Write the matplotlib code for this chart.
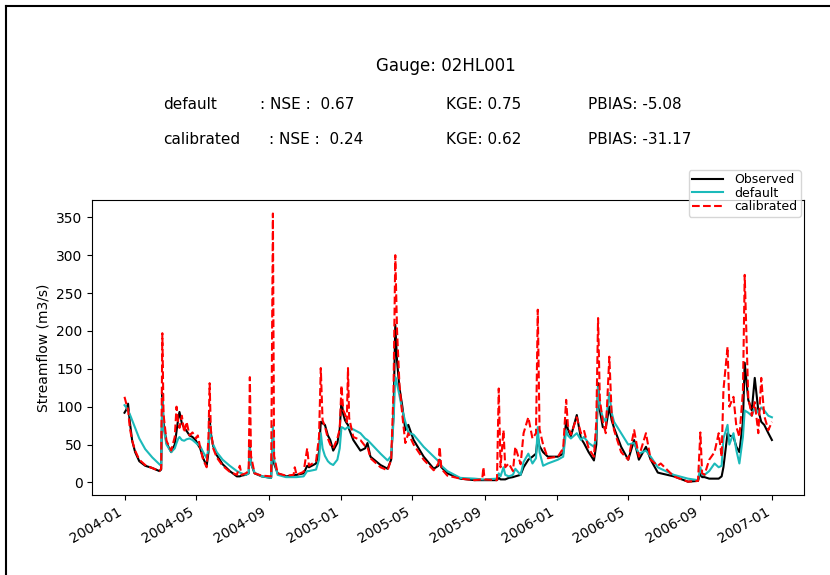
import numpy as np
import pandas as pd
import matplotlib
matplotlib.use("Agg")
import matplotlib.pyplot as plt
import matplotlib.dates as mdates
from matplotlib.lines import Line2D


# valores (m3/s)
fechas = [
    # 2004
    "2004-01-01", "2004-01-04", "2004-01-07", "2004-01-10", "2004-01-14", "2004-01-19",
    "2004-01-26", "2004-02-05", "2004-02-17", "2004-02-29", "2004-03-03", "2004-03-05",
    "2004-03-07", "2004-03-12", "2004-03-20", "2004-03-26", "2004-03-29", "2004-04-01",
    "2004-04-03", "2004-04-07", "2004-04-11", "2004-04-15", "2004-04-20", "2004-04-25",
    "2004-05-01", "2004-05-04", "2004-05-08", "2004-05-13", "2004-05-19", "2004-05-22",
    "2004-05-24", "2004-05-26", "2004-05-30", "2004-06-05", "2004-06-15", "2004-06-27",
    "2004-07-09", "2004-07-14", "2004-07-17", "2004-07-24", "2004-07-29", "2004-07-31",
    "2004-08-02", "2004-08-08", "2004-08-20", "2004-09-05", "2004-09-08", "2004-09-10",
    "2004-09-16", "2004-09-30", "2004-10-13", "2004-10-15", "2004-10-18", "2004-10-30",
    "2004-11-05", "2004-11-08", "2004-11-20", "2004-11-25", "2004-11-28", "2004-12-01",
    "2004-12-05", "2004-12-10", "2004-12-14", "2004-12-19", "2004-12-26", "2004-12-30",
    # 2005
    "2005-01-02", "2005-01-05", "2005-01-08", "2005-01-11", "2005-01-13", "2005-01-15",
    "2005-01-22", "2005-02-03", "2005-02-11", "2005-02-15", "2005-02-20", "2005-03-09",
    "2005-03-21", "2005-03-27", "2005-03-31", "2005-04-03", "2005-04-06", "2005-04-10",
    "2005-04-15", "2005-04-20", "2005-04-25", "2005-05-04", "2005-05-21", "2005-06-07",
    "2005-06-15", "2005-06-17", "2005-06-20", "2005-06-30", "2005-07-22", "2005-08-15",
    "2005-08-28", "2005-08-30", "2005-09-01", "2005-09-22", "2005-09-25", "2005-09-28",
    "2005-10-03", "2005-10-06", "2005-10-12", "2005-10-19", "2005-10-23", "2005-11-01",
    "2005-11-06", "2005-11-14", "2005-11-21", "2005-11-27", "2005-11-30", "2005-12-03",
    "2005-12-09", "2005-12-17",
    # 2006
    "2006-01-03", "2006-01-12", "2006-01-17", "2006-01-20", "2006-01-25", "2006-02-04",
    "2006-02-11", "2006-02-16", "2006-02-24", "2006-03-05", "2006-03-09", "2006-03-12",
    "2006-03-15", "2006-03-20", "2006-03-25", "2006-03-31", "2006-04-04", "2006-04-08",
    "2006-04-20", "2006-05-02", "2006-05-12", "2006-05-20", "2006-06-01", "2006-06-09",
    "2006-06-21", "2006-06-26", "2006-07-18", "2006-08-11", "2006-08-28", "2006-09-01",
    "2006-09-04", "2006-09-08", "2006-09-16", "2006-09-25", "2006-10-02", "2006-10-07",
    "2006-10-10", "2006-10-17", "2006-10-20", "2006-10-27", "2006-11-01", "2006-11-06",
    "2006-11-12", "2006-11-15", "2006-11-21", "2006-11-27", "2006-12-02", "2006-12-08",
    "2006-12-13", "2006-12-18", "2006-12-25", "2006-12-31",
]

observado = [
    92, 96, 104, 80, 55, 40,
    28, 22, 19, 15, 17, 118,
    80, 52, 40, 50, 68, 85,
    93, 78, 72, 68, 62, 60,
    55, 50, 45, 32, 22, 40,
    85, 65, 48, 36, 24, 15,
    8, 8, 9, 10, 12, 48,
    25, 12, 8, 6, 65, 25,
    12, 8, 9, 10, 10, 12,
    22, 20, 25, 40, 80, 78,
    76, 62, 56, 42, 52, 70,
    109, 90, 82, 78, 76, 70,
    56, 42, 45, 52, 34, 23,
    18, 30, 90, 208, 160, 125,
    100, 69, 76, 56, 34, 18,
    22, 30, 20, 12, 5, 3,
    3, 3, 3, 3, 6, 4,
    4, 4, 6, 7, 8, 10,
    20, 30, 34, 38, 60, 48,
    40, 34,
    34, 38, 82, 70, 61, 89,
    58, 52, 40, 29, 50, 131,
    95, 73, 72, 100, 82, 72,
    47, 30, 56, 30, 47, 30,
    13, 12, 8, 1, 2, 12,
    7, 7, 5, 5, 5, 8,
    20, 65, 62, 60, 47, 40,
    80, 158, 109, 95, 138, 95,
    80, 76, 65, 56,
]

por_defecto = [
    102, 99, 95, 90, 82, 72,
    58, 44, 33, 24, 22, 112,
    72, 50, 40, 45, 52, 58,
    60, 56, 55, 57, 58, 56,
    52, 50, 48, 40, 32, 45,
    75, 60, 50, 40, 30, 22,
    15, 13, 12, 10, 12, 45,
    25, 13, 8, 6, 75, 30,
    10, 7, 7, 7, 7, 8,
    15, 15, 17, 30, 65, 45,
    35, 28, 25, 23, 30, 45,
    73, 72, 70, 72, 73, 72,
    70, 65, 58, 56, 52, 38,
    29, 35, 80, 139, 130, 115,
    95, 80, 66, 63, 47, 34,
    28, 25, 22, 15, 6, 5,
    4, 4, 4, 5, 12, 8,
    20, 10, 8, 10, 18, 10,
    27, 38, 25, 32, 73, 40,
    22, 25,
    30, 34, 69, 62, 58, 65,
    56, 60, 52, 47, 60, 126,
    100, 86, 80, 118, 92, 80,
    65, 50, 52, 38, 42, 34,
    20, 18, 10, 5, 3, 20,
    10, 10, 15, 25, 20, 22,
    58, 76, 50, 65, 42, 25,
    60, 95, 92, 88, 99, 92,
    99, 95, 88, 86,
]

calibrado = [
    113, 104, 96, 72, 55, 42,
    30, 23, 19, 15, 18, 197,
    90, 55, 42, 60, 100, 78,
    72, 88, 66, 80, 62, 66,
    58, 62, 46, 30, 20, 60,
    131, 70, 45, 33, 22, 14,
    10, 22, 10, 12, 15, 139,
    35, 12, 9, 8, 355, 35,
    12, 9, 10, 20, 10, 14,
    45, 22, 28, 60, 151, 82,
    74, 58, 50, 45, 58, 70,
    128, 95, 90, 80, 151, 85,
    60, 56, 48, 47, 32, 20,
    16, 30, 120, 300, 200, 130,
    88, 52, 65, 50, 30, 16,
    25, 47, 18, 9, 5, 3,
    4, 20, 4, 3, 124, 20,
    69, 20, 25, 15, 47, 24,
    65, 86, 58, 65, 228, 70,
    50, 32,
    34, 45, 109, 75, 63, 86,
    65, 69, 45, 34, 80, 217,
    110, 80, 65, 166, 90, 69,
    40, 30, 69, 34, 65, 30,
    22, 25, 8, 1, 2, 66,
    12, 10, 30, 40, 65, 34,
    122, 179, 100, 113, 73, 60,
    120, 274, 112, 88, 106, 65,
    138, 88, 69, 80,
]

estacion = "02HL001"
metricas = {
    "default": {"NSE": 0.67, "KGE": 0.75, "PBIAS": -5.08},
    "calibrated": {"NSE": 0.24, "KGE": 0.62, "PBIAS": -31.17},
}

df = pd.DataFrame({"Observed": observado, "default": por_defecto,
                   "calibrated": calibrado}, index=pd.to_datetime(fechas))

fig = plt.figure(figsize=(8.3, 5.75), dpi=100)
ax = fig.add_axes([0.111, 0.139, 0.858, 0.513])

ax.plot(df.index, df["Observed"], color="k", lw=1.5, label="Observed")
ax.plot(df.index, df["default"], color="#1bbaba", lw=1.5, label="default")
ax.plot(df.index, df["calibrated"], "r--", lw=1.5, label="calibrated")

ax.set_ylabel("Streamflow (m3/s)")
ax.set_yticks(np.arange(0, 351, 50))
ax.xaxis.set_major_locator(mdates.MonthLocator(bymonth=[1, 5, 9]))
ax.xaxis.set_major_formatter(mdates.DateFormatter("%Y-%m"))
for lbl in ax.get_xticklabels():
    lbl.set_rotation(30)
    lbl.set_ha("right")

ax.legend(loc="upper right", bbox_to_anchor=(0.995, 1.102), fontsize=9,
          borderpad=0.25, labelspacing=0.05, handlelength=2.5,
          handletextpad=0.9, borderaxespad=0.0)

# titulo y metricas
fig.text(0.537, 0.885, "Gauge: " + estacion, ha="center", va="center", fontsize=12)
filas_y = [0.819, 0.758]
nse_x = [0.313, 0.324]
for (nombre, m), y, xn in zip(metricas.items(), filas_y, nse_x):
    fig.text(0.196, y, nombre, va="center", fontsize=11)
    fig.text(xn, y, ": NSE :  %.2f" % m["NSE"], va="center", fontsize=11)
    fig.text(0.537, y, "KGE: %.2f" % m["KGE"], va="center", fontsize=11)
    fig.text(0.708, y, "PBIAS: %.2f" % m["PBIAS"], va="center", fontsize=11)

# marco de la imagen (izquierda y arriba)
fig.add_artist(Line2D([0.007, 0.007], [0.0, 0.99], color="k", lw=1.5))
fig.add_artist(Line2D([0.007, 1.0], [0.99, 0.99], color="k", lw=1.5))

fig.savefig("out.png", dpi=100)
